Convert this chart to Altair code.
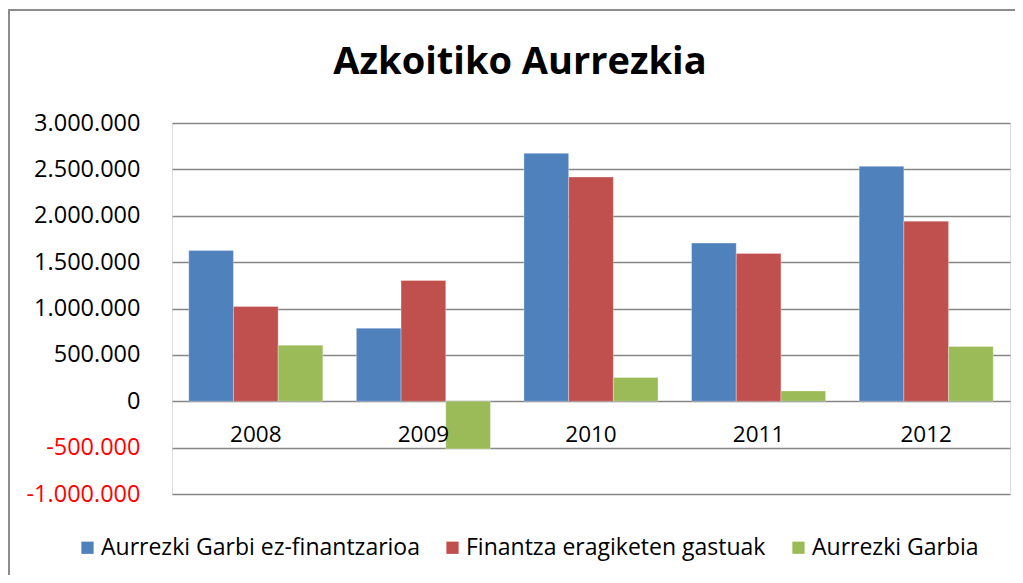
import altair as alt
import pandas as pd

years = ["2008", "2009", "2010", "2011", "2012"]
series = ["Aurrezki Garbi ez-finantzarioa", "Finantza eragiketen gastuak", "Aurrezki Garbia"]
garbi_ez_fin = [1626000, 788000, 2673000, 1705000, 2533000]
fin_gastuak = [1022000, 1302000, 2417000, 1594000, 1942000]
garbia = [604000, -514000, 256000, 111000, 591000]
colors = ["#4F81BD", "#C0504D", "#9BBB59"]

rows = []
for i, y in enumerate(years):
    for s, vals in zip(series, [garbi_ez_fin, fin_gastuak, garbia]):
        rows.append({"year": y, "series": s, "value": vals[i]})
df = pd.DataFrame(rows)
df["order"] = df["series"].map({s: i for i, s in enumerate(series)})

FONT = "Open Sans"
W, H = 838, 371

bars = alt.Chart(df).mark_bar(stroke="white", strokeWidth=0.5, strokeOpacity=0.6).encode(
    x=alt.X("year:N", sort=years, title=None,
            scale=alt.Scale(paddingInner=0.2, paddingOuter=0.1),
            axis=None),
    xOffset=alt.XOffset("series:N", sort=series, scale=alt.Scale(paddingInner=0, paddingOuter=0)),
    y=alt.Y("value:Q", title=None,
            scale=alt.Scale(domain=[-1000000, 3000000], nice=False, zero=False),
            axis=alt.Axis(values=[-1000000, -500000, 0, 500000, 1000000, 1500000, 2000000, 2500000, 3000000],
                          labelExpr="replace(replace(format(datum.value, ',d'), /,/g, '.'), '\u2212', '-')",
                          labelColor={"condition": {"test": "datum.value < 0", "value": "#FF0000"}, "value": "#000000"},
                          labelFont=FONT, labelFontSize=23.5, labelPadding=32,
                          domain=False, ticks=False,
                          grid=True, gridColor="#868686", gridWidth=1.5)),
    color=alt.Color("series:N", sort=series, title=None,
                    scale=alt.Scale(domain=series, range=colors),
                    legend=alt.Legend(orient="none", direction="horizontal", columns=3,
                                      legendX=-96, legendY=413, symbolType="square",
                                      symbolSize=150, symbolStrokeWidth=0, labelLimit=0,
                                      labelFont=FONT, labelFontSize=23, labelColor="#000000",
                                      columnPadding=21, labelOffset=2, padding=0)),
    order=alt.Order("order:Q"),
)

year_df = pd.DataFrame({"year": years, "zero": [0] * len(years)})
labels = alt.Chart(year_df).mark_text(font=FONT, fontSize=22.5, baseline="middle", dy=34, color="#000000").encode(
    x=alt.X("year:N", sort=years),
    text="year:N",
    y=alt.Y("zero:Q"),
)

border = alt.Chart(pd.DataFrame({"a": [0]})).mark_rect(fill=None, stroke="#8C8C8C", strokeWidth=2).encode(
    x=alt.value(-163), x2=alt.value(W + 80), y=alt.value(-113), y2=alt.value(H + 160)
)

chart = alt.layer(border, bars, labels).properties(
    width=W, height=H,
    title=alt.TitleParams("Azkoitiko Aurrezkia", font=FONT, fontSize=38, fontWeight="bold",
                          color="#000000", anchor="middle", dx=-71, offset=-103,
                          baseline="alphabetic", frame="group"),
    padding={"left": 164, "top": 115, "right": 5, "bottom": 81},
    autosize=alt.AutoSizeParams(type="none"),
).configure_view(stroke=None).configure(background="white")

chart.save("out.html", embed_options={"renderer": "svg", "actions": False})
